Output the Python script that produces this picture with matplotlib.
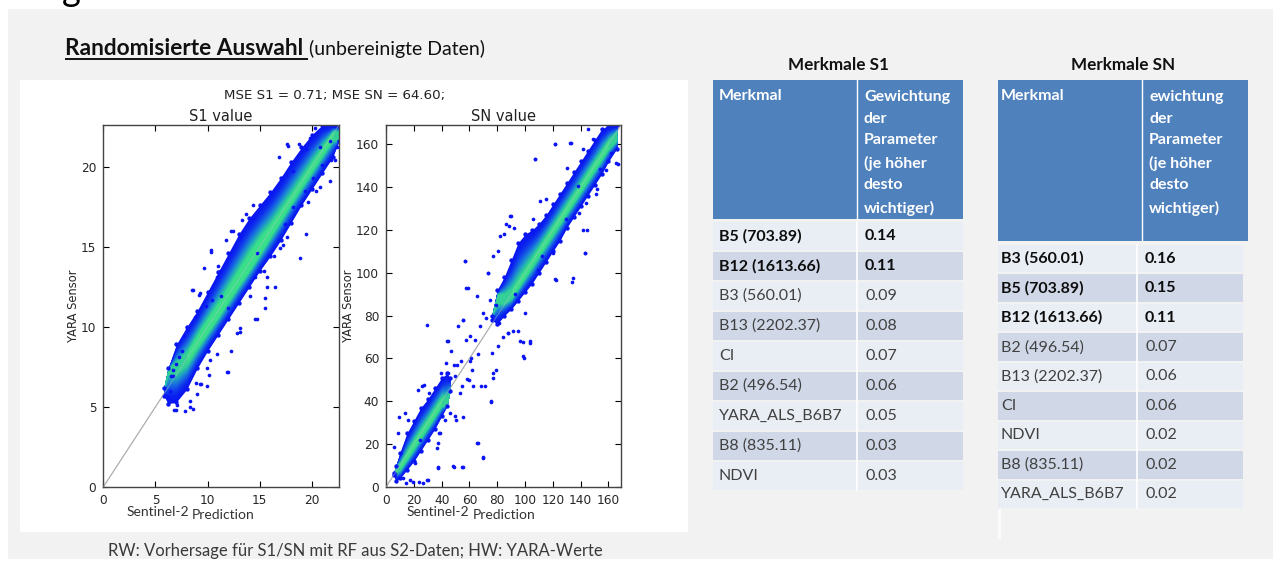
import matplotlib.pyplot as plt
from matplotlib.patches import Rectangle
from matplotlib.colors import LinearSegmentedColormap
import numpy as np

# S1 scatter: dense band (lower/upper edge) and green core
s1_lim = 22.6
s1_band_x = [5.8, 6.2, 7.0, 8.0, 9.0, 10.0, 11.0, 12.0, 13.0, 14.0, 15.0, 16.0, 17.0, 18.0, 19.0, 20.0, 21.0, 22.0, 22.6]
s1_band_lo = [5.7, 5.2, 5.3, 6.1, 7.4, 8.5, 9.5, 10.5, 11.5, 12.5, 13.5, 14.4, 15.4, 16.5, 17.6, 18.6, 19.6, 20.6, 21.6]
s1_band_hi = [6.2, 7.4, 8.9, 10.0, 11.0, 12.2, 13.4, 14.6, 15.8, 16.8, 17.6, 18.4, 19.3, 20.3, 21.2, 22.0, 22.6, 22.6, 22.6]
s1_core_x = [7.5, 9.0, 11.0, 13.0, 14.5, 16.0, 18.0, 20.0, 22.0]
s1_core_lo = [7.2, 8.7, 10.6, 12.6, 14.0, 15.6, 17.7, 19.7, 21.7]
s1_core_hi = [7.8, 9.5, 11.5, 13.6, 15.2, 16.4, 18.3, 20.3, 22.2]
s1_pts_x = [16.8, 17.6, 19.4, 19.4, 18.9, 14.7, 11.9, 10.3, 8.5, 14.7, 12.4, 13.7, 14.4, 9.9, 9.4,
            7.8, 8.6, 6.8, 21.7, 22.2, 21.7, 15.5, 16.5, 12.8, 13.1, 8.0, 7.7, 10.9, 11.3, 12.0,
            7.3, 6.7, 8.9, 8.3, 18.2, 20.1, 20.8, 17.4, 14.4, 13.1, 11.8, 11.2, 9.7, 9.3, 10.4,
            14.1, 15.7, 16.9, 18.2, 19.3, 20.8, 19.8, 20.3, 6.2, 6.5, 7.1, 9.0, 10.1, 21.0, 22.4,
            17.7, 18.8, 21.8, 20.4, 19.6, 13.3, 12.2, 10.3, 11.0, 8.6, 9.2, 9.8, 17.6, 17.2, 16.4,
            15.4, 14.5, 15.7, 15.5, 14.5, 13.1, 12.2, 12.0, 10.9, 10.2, 9.9, 9.3, 8.3, 7.0, 6.7,
            6.4, 6.7, 7.0, 7.5, 8.0, 8.8]
s1_pts_y = [20.6, 21.4, 21.1, 15.8, 14.3, 10.5, 7.2, 14.7, 12.3, 14.6, 16.0, 17.05, 17.6, 6.3, 6.4,
            4.75, 4.9, 4.8, 19.1, 20.4, 21.6, 11.8, 12.5, 9.6, 9.9, 10.0, 9.4, 13.1, 11.9, 11.2,
            8.1, 7.3, 6.5, 5.4, 19.75, 19.3, 18.7, 16.4, 16.8, 15.6, 15.4, 13.5, 13.7, 12.1, 11.7,
            11.9, 13.1, 14.9, 17.5, 18.5, 21.2, 21.8, 22.4, 5.6, 6.9, 5.1, 5.8, 7.0, 20.1, 21.2,
            21.3, 21.4, 20.4, 18.5, 17.8, 16.7, 16.0, 14.8, 13.8, 12.3, 12.0, 11.3, 15.6, 15.1, 14.4,
            13.5, 13.1, 12.5, 11.2, 10.5, 9.7, 8.5, 7.2, 8.3, 7.9, 7.4, 6.4, 5.0, 4.8, 5.4,
            6.0, 6.9, 7.7, 8.5, 9.8, 10.6]

# SN scatter: two dense clusters and scattered points
sn_lim = 169.0
sn_low_x = [5.5, 7, 10, 15, 20, 25, 30, 35, 40, 44, 46]
sn_low_lo = [5.5, 3, 4, 8, 12, 17, 22, 27, 33, 38, 45]
sn_low_hi = [6.5, 10, 16, 25, 31, 37, 41, 46, 51, 53, 51]
sn_up_x = [76, 80, 85, 90, 95, 100, 105, 110, 115, 120, 125, 130, 135, 140, 145, 150, 155, 160, 166]
sn_up_lo = [78, 76, 80, 83, 87, 91, 95, 100, 105, 110, 115, 121, 126, 131, 136, 141, 146, 152, 158]
sn_up_hi = [80, 92, 98, 106, 114, 118, 120, 123, 127, 132, 137, 142, 147, 152, 157, 162, 167, 169, 169]
sn_core_low_x = [9, 20, 30, 40]
sn_core_low_lo = [7, 18, 28, 38]
sn_core_low_hi = [10, 22, 32, 42]
sn_core_up_x = [88, 100, 110, 120, 135, 150, 164]
sn_core_up_lo = [86, 98, 108, 118, 133, 148, 162]
sn_core_up_hi = [90, 102, 112, 122, 137, 152, 166]
sn_pts_x = [107.2, 121.6, 132.4, 142, 149, 167, 143, 134, 121.6, 144.4, 151.6, 130, 89.2, 86.3, 82,
            73.6, 56.8, 57.6, 29.3, 43.6, 50.8, 55.6, 60.4, 64, 67.6, 70, 65.2, 74.8, 76, 80.8,
            96.4, 98.8, 103.6, 100, 91.6, 88, 77.2, 75.7, 71.2, 60.4, 62.8, 61.6, 54.4, 49.6, 65.2,
            69.5, 48.4, 55, 37.6, 29.7, 26.9, 36.5, 26.1, 44.8, 53.2, 58, 46, 49.6, 24.5, 20.9,
            17.3, 12.5, 38.8, 42.4, 13.7, 8.9, 66, 72, 79, 84, 93, 112, 158, 162, 139,
            145.2, 121.2, 133.2, 106.8, 165.6, 153.6, 151.2, 144, 141.6, 110.4, 115.2, 105.6, 90, 88.8, 92.4,
            85.2, 80.4, 76.8, 73.2, 57.1, 58.8, 122.4, 134.4, 142.8, 120, 109.2, 129.6, 138,
            44.4, 55.2, 51.6, 57.6, 46.8, 43.2, 39.6, 49.2, 54, 61.2, 60, 68.4, 76.8, 75.6, 79.2,
            66, 69.6, 49.2, 55.2, 37.2, 30, 24, 19.2, 14.4, 37.2, 38.4, 55.2, 50.4, 9.6, 15.6,
            6, 22.8, 31.2, 27.6, 81.6, 87.6, 98.4, 103.2, 99.6, 94.8]
sn_pts_y = [153, 160, 160.7, 157.6, 162.3, 150.6, 109.3, 95.8, 96.9, 120.2, 139, 149, 126.5, 123, 117,
            100, 105.5, 93, 75.5, 68, 57, 78, 70.4, 68.8, 75, 81.3, 89, 87.5, 62.6, 65.7,
            68, 61, 68, 81.3, 72.7, 72, 53.3, 40, 47, 58.7, 47, 54.8, 47, 51.7, 20.6,
            14, 9.7, 9.3, 8.9, 3.4, 1.9, 18.2, 47, 53.3, 43.9, 50.2, 34.6, 33, 22.1, 11.2,
            3.4, 4.2, 25.2, 31.5, 34.6, 25.2, 62, 79, 85, 70, 90, 108, 148, 156, 128,
            167, 160, 160.8, 153, 151.4, 148.3, 136.6, 132.7, 120.2, 133.6, 134.3, 124.9, 126.5, 121.8, 121,
            117.9, 110, 107.7, 99.9, 105.5, 93, 96.8, 97.6, 109.3, 109.3, 101.5, 124.9, 140.5,
            68, 78, 75, 68.8, 63.3, 57.8, 53, 57, 58.6, 60.2, 50.1, 47, 50.8, 39.9, 54.8,
            20.6, 13.5, 9.5, 9.5, 9.5, 3.3, 2.5, 2.5, 1.8, 20.4, 25.1, 32.9, 31.3, 32.9, 31.3,
            18.9, 45.3, 43.7, 47.6, 76.6, 71.7, 67.9, 67.1, 60.2, 72.6]

# feature tables
s1_names = ["B5 (703.89)", "B12 (1613.66)", "B3 (560.01)", "B13 (2202.37)", "CI",
            "B2 (496.54)", "YARA_ALS_B6B7", "B8 (835.11)", "NDVI"]
s1_weights = ["0.14", "0.11", "0.09", "0.08", "0.07", "0.06", "0.05", "0.03", "0.03"]
s1_nbold = 2
sn_names = ["B3 (560.01)", "B5 (703.89)", "B12 (1613.66)", "B2 (496.54)", "B13 (2202.37)",
            "CI", "NDVI", "B8 (835.11)", "YARA_ALS_B6B7"]
sn_weights = ["0.16", "0.15", "0.11", "0.07", "0.06", "0.06", "0.02", "0.02", "0.02"]
sn_nbold = 3

W, H = 1273, 562
SLIDE = "Lato"
fig = plt.figure(figsize=(W / 100, H / 100), dpi=100)
fig.patch.set_facecolor("white")

bg = fig.add_axes([0, 0, 1, 1], zorder=0)
bg.set_xlim(0, W)
bg.set_ylim(H, 0)
bg.axis("off")
bg.add_patch(Rectangle((8, 9), W - 8, 550, color="#f2f2f2", lw=0))
bg.add_patch(Rectangle((20, 80), 668, 452, color="white", lw=0))
bg.text(62, 1, "g", fontsize=26, family=SLIDE, va="baseline", color="black")

t1 = bg.text(65, 55, "Randomisierte Auswahl", fontsize=16.3, family=SLIDE, weight="bold",
             va="baseline", color="#111111")
fig.canvas.draw()
bb = t1.get_window_extent()
bg.plot([bb.x0, bb.x1 + 5], [59, 59], color="#111111", lw=1.4, solid_capstyle="butt")
bg.text(bb.x1 + 6, 55, "(unbereinigte Daten)", fontsize=14, family=SLIDE,
        va="baseline", color="#111111")

bg.text(335, 95, "MSE S1 = 0.71; MSE SN = 64.60;", fontsize=9.6, ha="center", va="center",
        color="#222222")
bg.text(355, 551, "RW: Vorhersage für S1/SN mit RF aus S2-Daten; HW: YARA-Werte", fontsize=12,
        family=SLIDE, ha="center", va="center", color="#3a3a3a")

for xs, xp in [(127, 192), (407, 473)]:
    bg.text(xs, 512, "Sentinel-2", fontsize=10, family=SLIDE, va="center", color="#333333")
    bg.text(xp, 515, "Prediction", fontsize=10, family=SLIDE, va="center", color="#333333")


def draw_table(x0, x1, xs, head_bot, row_top, row_bot, row_x1, row_xs, tx, title, head2,
               names, weights, nbold):
    bg.text((x0 + x1) / 2, 65, title, fontsize=12.3, family=SLIDE, weight="bold",
            ha="center", va="center", color="#111111")
    bg.add_patch(Rectangle((x0, 80), x1 - x0, head_bot - 80, color="#4f81bd", lw=0))
    bg.plot([xs, xs], [80, head_bot], color="white", lw=1)
    bg.text(x0 + tx, 96, "Merkmal", fontsize=11.5, family=SLIDE, weight="bold",
            va="center", color="white")
    bg.text(xs + 7, 90, head2, fontsize=11.5, family=SLIDE, weight="bold", va="top",
            color="white", linespacing=1.69)
    rh = (row_bot - row_top) / len(names)
    for i, (n, w) in enumerate(zip(names, weights)):
        y = row_top + i * rh
        c = "#e9edf4" if i % 2 == 0 else "#d0d8e8"
        bg.add_patch(Rectangle((x0, y + 1), row_x1 - x0, rh - 2, color=c, lw=0))
        bg.plot([row_xs, row_xs], [y + 1, y + rh - 1], color="white", lw=1.2)
        bold = i < nbold
        tc = "#0d0d0d" if bold else "#404040"
        fw = "bold" if bold else "normal"
        bg.text(x0 + tx, y + rh / 2, n, fontsize=11.5, family=SLIDE, weight=fw,
                va="center", color=tc)
        bg.text(row_xs + 8, y + rh / 2, w, fontsize=11.5, family=SLIDE, weight=fw,
                va="center", color=tc)


head_txt = "der\nParameter\n(je höher\ndesto\nwichtiger)"
draw_table(713, 963, 857, 219, 221, 491, 963, 857, 6, "Merkmale S1", "Gewichtung\n" + head_txt,
           s1_names, s1_weights, s1_nbold)
draw_table(998, 1248, 1142, 241, 244, 509, 1243, 1137, 3, "Merkmale SN", "ewichtung\n" + head_txt,
           sn_names, sn_weights, sn_nbold)
bg.add_patch(Rectangle((998, 509), 3, 30, color="#fbfbfb", lw=0))

# density shading from the outer band to the core
dens = LinearSegmentedColormap.from_list("dens", ["#0a16f2", "#0a1ef0", "#0f34ec", "#155ae4",
                                                  "#1b88d4", "#26b8ac", "#3adf8a"])


def band(ax, x, lo, hi, cx, clo, chi):
    x = np.asarray(x, float)
    lo = np.asarray(lo, float)
    hi = np.asarray(hi, float)
    clo_i = np.clip(np.interp(x, cx, clo), lo, hi)
    chi_i = np.clip(np.interp(x, cx, chi), lo, hi)
    n = 16
    for k in range(n):
        f = k / n
        ax.fill_between(x, lo + f * (clo_i - lo), hi + f * (chi_i - hi), color=dens(f),
                        lw=0, zorder=2)
    inside = (x >= min(cx)) & (x <= max(cx))
    ax.fill_between(x[inside], clo_i[inside], chi_i[inside], color=dens(1.0), lw=0, zorder=3)
    ax.scatter(x, lo, s=10, color=dens(0.0), lw=0, zorder=2)
    ax.scatter(x, hi, s=10, color=dens(0.0), lw=0, zorder=2)


def panel(left, right, lim, ticks, title):
    ax = fig.add_axes([left / W, 1 - 487 / H, (right - left) / W, 362 / H], zorder=2)
    ax.set_xlim(0, lim)
    ax.set_ylim(0, lim)
    ax.set_xticks(ticks)
    ax.set_yticks(ticks)
    ax.tick_params(direction="in", top=True, right=True, length=4, width=0.8,
                   labelsize=8.7, labelcolor="#262626", pad=5)
    for s in ax.spines.values():
        s.set_color("#444444")
        s.set_linewidth(1.0)
    ax.set_title(title, fontsize=10.5, pad=3, color="#222222")
    ax.set_ylabel("YARA Sensor", fontsize=8.3, color="#262626", labelpad=1)
    ax.plot([0, lim], [0, lim], color="#a0a0a0", lw=0.8, zorder=1)
    return ax


ax1 = panel(103.3, 339, s1_lim, [0, 5, 10, 15, 20], "S1 value")
band(ax1, s1_band_x, s1_band_lo, s1_band_hi, s1_core_x, s1_core_lo, s1_core_hi)
ax1.scatter(s1_pts_x, s1_pts_y, s=7, color="#0a14f5", lw=0, zorder=4)
ax1.plot([0, s1_lim], [0, s1_lim], color="#b8c8c0", lw=0.6, zorder=5, alpha=0.5)

ax2 = panel(386, 621, sn_lim, list(range(0, 161, 20)), "SN value")
band(ax2, sn_low_x, sn_low_lo, sn_low_hi, sn_core_low_x, sn_core_low_lo, sn_core_low_hi)
band(ax2, sn_up_x, sn_up_lo, sn_up_hi, sn_core_up_x, sn_core_up_lo, sn_core_up_hi)
ax2.scatter(sn_pts_x, sn_pts_y, s=7, color="#0a14f5", lw=0, zorder=4)
ax2.plot([0, sn_lim], [0, sn_lim], color="#b8c8c0", lw=0.6, zorder=5, alpha=0.5)

fig.savefig("out.png", dpi=100)
